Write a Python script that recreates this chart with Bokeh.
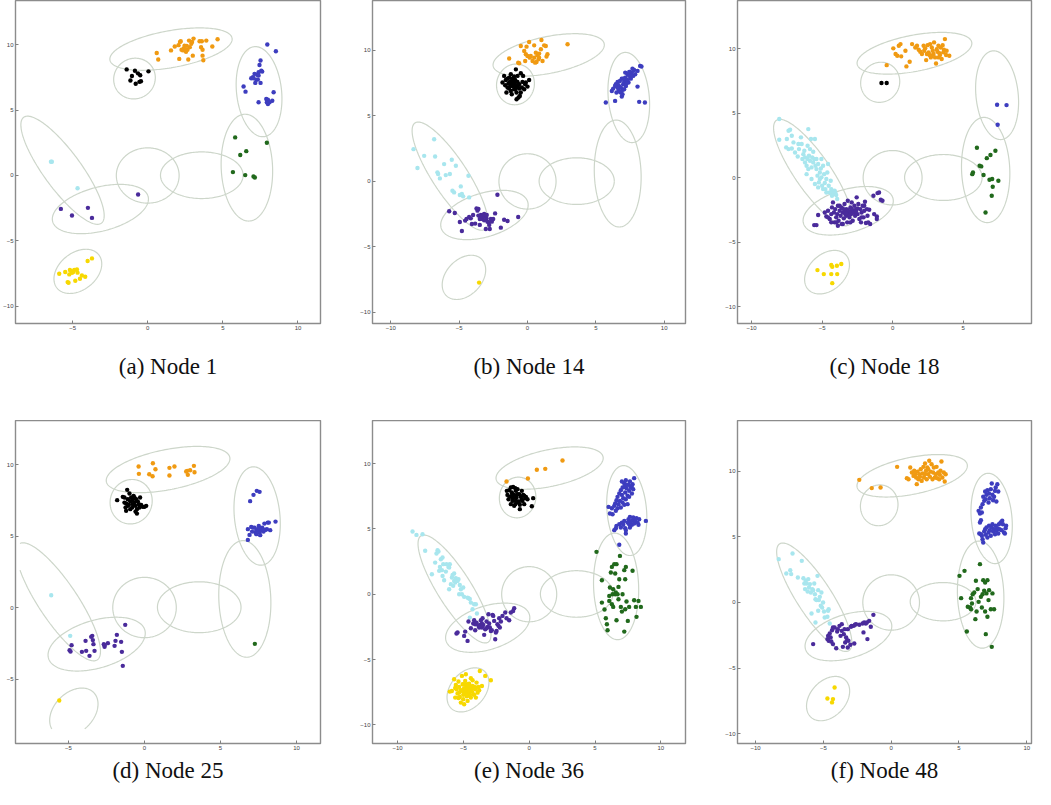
import numpy as np
from bokeh.plotting import figure
from bokeh.layouts import row, column
from bokeh.models import FixedTicker, Range1d
from bokeh.embed import file_html
from bokeh.resources import INLINE

# ---------------- mixture-component ellipses (centre, full axes, angle in degrees) -------------
ELL_NAMES = ["orange", "black", "blue", "green", "right", "centre", "purple", "cyan", "yellow"]
ELL_CX = [1.55, -0.88, 7.41, 6.60, 3.60, 0.00, -3.15, -5.67, -4.65]
ELL_CY = [9.65, 7.40, 6.40, 0.60, 0.02, 0.00, -2.56, 0.40, -7.32]
ELL_W = [8.30, 3.12, 6.90, 8.16, 5.50, 4.18, 6.64, 9.60, 3.80]
ELL_H = [2.80, 2.76, 3.00, 3.42, 3.56, 4.22, 3.32, 2.60, 2.66]
ELL_ANG = [12, 80, 95, 92, 0, 0, 18, -58, 50]
# panel (f) has a smaller "right" component
F_RIGHT_ELL = (3.83, 0.06, 4.85, 2.92, 0)
# panel (d) ellipse drawing is cut off at these lower limits
D_CLIP = (-8.2, -8.5)

CAPTIONS = ["(a) Node 1", "(b) Node 14", "(c) Node 18", "(d) Node 25", "(e) Node 36", "(f) Node 48"]
TICKS = [-10, -5, 0, 5, 10]
TICK_LABELS = {-10: "\u221210", -5: "\u22125", 0: "0", 5: "5", 10: "10"}

COLORS = {
    "orange": "#f09a12", "black": "#000000", "blue": "#3d3dbf", "purple": "#4a2b9b",
    "cyan": "#a8e6ee", "green": "#21691c", "yellow": "#f7d800",
}

# ---------------- panel (a) Node 1 ----------------
a_orange = [(0.6,9.35),(0.7,8.85),(1.55,9.55),(1.8,9.85),(2.05,9.95),(2.15,10.2),(2.2,10.25),(2.4,9.7),(2.45,9.9),(2.55,9.45),(2.65,9.6),(2.75,10.3),(2.8,9.8),(2.9,10.05),(2.95,10.2),(3.0,9.15),(3.05,10.45),(2.1,8.9),(2.7,8.85),(3.45,10.25),(3.55,9.8),(3.6,10.25),(3.65,9.6),(3.65,9.15),(3.7,8.8),(3.9,10.3),(4.3,9.85),(4.65,10.4),(2.35,9.55),(2.5,9.6),(2.6,9.9),(2.25,9.6)]
a_black = [(-1.4,8.1),(-1.05,7.6),(-1.15,7.25),(-0.85,8.0),(-0.65,7.8),(-0.5,7.65),(-0.55,7.15),(-0.8,7.0),(-0.45,7.2),(0.05,7.95)]
a_blue = [(7.96,10.0),(8.53,9.49),(7.51,8.78),(7.44,8.44),(7.56,8.01),(7.62,7.93),(7.38,7.88),(7.29,7.68),(7.11,7.76),(7.0,7.5),(6.89,7.42),(7.22,7.32),(7.16,7.07),(7.33,7.32),(7.51,7.07),(6.38,6.79),(6.51,6.4),(7.38,5.59),(7.89,5.84),(8.0,5.79),(8.29,5.71),(8.38,6.35),(8.0,5.46),(8.11,5.59),(7.93,5.59),(7.04,7.42),(7.38,7.63)]
a_green = [(5.82,2.91),(7.93,2.5),(6.16,1.56),(6.56,1.86),(5.67,0.26),(6.49,0.03),(7.04,-0.08),(7.13,-0.15)]
a_cyan = [(-6.44,1.05),(-6.38,1.05),(-4.67,-0.97)]
a_purple = [(-5.78,-2.55),(-5.04,-3.06),(-3.98,-2.47),(-3.71,-3.24),(-0.64,-1.45)]
a_yellow = [(-5.89,-7.5),(-5.49,-7.37),(-5.33,-8.14),(-5.27,-8.19),(-5.18,-7.22),(-5.09,-7.3),(-5.04,-7.42),(-4.96,-7.37),(-4.89,-7.22),(-4.82,-8.04),(-4.71,-7.17),(-4.67,-7.42),(-4.51,-7.88),(-4.38,-7.63),(-4.16,-7.73),(-4.0,-6.53),(-3.71,-6.33),(-5.22,-7.55)]

# ---------------- panel (b) Node 14 ----------------
b_orange = [(-1.34,9.37),(-0.68,9.06),(-0.61,9.01),(-0.49,10.33),(-0.24,9.95),(-0.12,9.7),(-0.07,10.28),(0.0,9.57),(0.12,10.63),(0.24,9.57),(0.37,9.19),(0.49,10.38),(0.49,9.44),(0.61,9.82),(0.66,9.11),(0.73,9.62),(0.8,9.31),(0.85,9.75),(0.98,10.08),(1.02,10.79),(1.1,9.19),(1.22,10.38),(1.34,10.33),(1.39,9.52),(1.46,9.7),(2.93,10.46),(-0.17,9.19),(0.17,9.44),(0.85,9.44),(0.56,9.06)]
b_black = [(-1.71,8.05),(-1.83,7.54),(-1.59,7.74),(-1.46,7.16),(-1.54,6.78),(-1.34,7.92),(-1.22,8.17),(-1.15,7.66),(-1.1,7.28),(-1.05,7.79),(-0.98,7.54),(-0.9,7.03),(-0.85,8.55),(-0.8,6.78),(-0.73,8.05),(-0.66,6.4),(-0.61,7.41),(-0.56,6.52),(-0.49,8.25),(-0.41,7.16),(-0.37,7.59),(-0.24,7.03),(-0.12,7.54),(0.0,7.23),(0.12,7.74),(-0.98,8.0),(-1.22,6.9),(-1.39,7.49),(-1.29,7.59),(-1.05,7.41),(-0.9,7.74),(-1.34,7.08),(-0.73,7.59),(-1.46,7.84),(-1.15,6.65),(-0.85,7.23),(-0.61,7.08),(-0.32,8.05),(-0.17,7.41),(-0.8,6.27),(-0.49,6.78),(-1.63,7.33),(-1.1,7.84),(-0.98,7.03),(-1.0,7.45),(-0.9,7.35),(-1.2,7.5),(-0.7,7.2),(-1.25,7.3),(-0.95,7.65)]
b_blue = [(5.73,6.02),(6.17,6.9),(6.27,7.08),(6.41,6.14),(6.46,7.41),(6.51,6.78),(6.59,7.59),(6.66,7.03),(6.71,7.23),(6.76,7.66),(6.83,6.78),(6.9,7.84),(6.9,6.47),(6.95,6.98),(7.0,7.41),(7.07,7.59),(7.15,7.92),(7.2,7.28),(7.24,7.74),(7.32,8.17),(7.39,7.54),(7.44,8.05),(7.49,8.35),(7.56,7.84),(7.63,8.3),(7.68,8.6),(7.73,8.05),(7.8,8.5),(7.88,8.17),(8.05,8.43),(8.05,7.23),(8.17,6.07),(8.24,8.81),(8.34,8.76),(8.59,6.02),(6.66,7.34),(6.83,7.16),(7.0,7.84),(7.15,8.3),(7.32,7.74),(6.59,7.16),(6.76,6.83),(7.07,7.03),(7.44,8.35),(6.95,6.65),(6.41,7.28),(7.24,7.49),(7.59,8.1)]
b_cyan = [(-8.34,2.46),(-8.05,1.02),(-7.56,1.95),(-6.83,3.22),(-6.76,1.9),(-6.59,0.69),(-6.54,0.56),(-6.41,0.23),(-6.1,1.32),(-5.98,0.48),(-5.68,0.56),(-5.54,1.65),(-5.49,-0.71),(-5.37,-0.84),(-5.24,1.19),(-4.95,-1.04),(-4.88,-0.38),(-4.8,-0.96),(-4.71,-1.14),(-4.32,0.43),(-4.27,-1.22)]
b_purple = [(-5.73,-2.28),(-5.32,-2.41),(-4.95,-3.1),(-4.8,-3.78),(-4.56,-2.99),(-4.46,-2.87),(-4.27,-2.72),(-4.15,-2.82),(-4.07,-3.25),(-3.98,-2.56),(-3.83,-3.22),(-3.73,-2.06),(-3.66,-2.23),(-3.59,-2.11),(-3.59,-2.61),(-3.49,-3.32),(-3.41,-2.56),(-3.34,-2.66),(-3.29,-2.87),(-3.24,-2.56),(-3.17,-2.97),(-3.1,-2.66),(-3.05,-3.63),(-3.0,-2.82),(-2.93,-3.07),(-2.85,-3.12),(-2.8,-3.32),(-2.76,-3.63),(-2.68,-2.87),(-2.61,-3.07),(-2.51,-2.87),(-2.37,-2.44),(-2.2,-1.02),(-1.95,-3.53),(-1.71,-2.92),(-1.46,-3.02),(-0.68,-2.72),(-3.49,-2.87),(-3.17,-2.49),(-2.98,-2.56)]
b_yellow = [(-3.54,-7.72)]

# ---------------- panel (c) Node 18 ----------------
c_orange = [(-0.42,8.73),(0.05,10.03),(0.21,9.59),(0.33,9.46),(0.44,10.23),(0.56,10.36),(0.61,9.41),(0.91,9.84),(0.98,8.63),(1.21,8.99),(1.38,10.36),(1.61,10.1),(1.73,10.23),(1.85,9.92),(1.96,9.77),(2.08,9.59),(2.2,10.23),(2.24,9.84),(2.31,10.03),(2.38,9.12),(2.48,10.28),(2.55,9.72),(2.62,9.51),(2.66,10.36),(2.71,9.33),(2.78,10.1),(2.85,9.84),(2.9,9.59),(2.94,10.49),(3.01,9.33),(3.08,8.86),(3.13,9.97),(3.18,9.77),(3.25,10.23),(3.32,9.66),(3.36,9.51),(3.41,10.1),(3.48,9.2),(3.55,10.28),(3.6,9.72),(3.64,9.92),(3.71,10.75),(3.79,9.51),(3.83,9.84),(4.02,9.46),(2.43,9.59),(2.78,9.46),(3.25,9.33)]
c_black = [(-0.79,7.34),(-0.42,7.34)]
c_blue = [(7.41,5.66),(8.08,5.63),(7.45,4.11)]
c_green = [(5.98,2.33),(5.65,0.28),(5.7,0.41),(6.17,0.93),(6.29,0.88),(6.45,0.21),(6.68,1.52),(6.94,1.76),(7.29,2.09),(6.87,-0.16),(7.06,-0.1),(7.5,-0.23),(7.1,-0.7),(7.03,-1.4),(6.59,-2.69)]
c_cyan = [(-8.04,4.55),(-8.04,2.95),(-7.5,3.0),(-7.38,3.64),(-7.27,3.72),(-7.55,2.35),(-7.38,2.22),(-7.15,2.27),(-7.03,2.74),(-6.92,1.96),(-6.73,1.65),(-6.64,2.22),(-6.5,3.13),(-6.45,2.61),(-6.4,1.45),(-6.33,1.83),(-6.26,2.09),(-6.21,1.19),(-6.1,0.93),(-6.03,2.48),(-5.98,3.77),(-5.93,1.71),(-5.86,1.32),(-5.79,3.0),(-5.75,0.8),(-5.7,1.58),(-5.63,2.02),(-5.56,1.45),(-5.51,3.0),(-5.47,0.93),(-5.4,0.67),(-5.33,0.16),(-5.28,1.06),(-5.23,-0.36),(-5.16,0.41),(-5.09,0.72),(-5.05,0.03),(-5.0,-0.62),(-4.93,0.93),(-4.86,0.28),(-4.81,-0.41),(-4.77,-0.88),(-4.7,-0.1),(-4.63,0.41),(-4.58,1.06),(-4.53,-0.62),(-4.46,-1.14),(-4.39,-0.23),(-4.35,-0.88),(-4.3,-1.4),(-4.23,-1.09),(-4.16,-1.27),(-4.11,-1.01),(-4.07,-1.14),(-4.0,-1.34),(-3.93,-1.65),(-6.1,0.28),(-5.98,0.67),(-5.75,-0.1),(-5.51,-0.49),(-5.28,-0.75),(-7.15,3.26),(-6.68,2.61),(-6.21,1.58),(-5.86,2.22),(-5.63,1.19),(-5.4,1.45),(-5.16,-0.1),(-4.93,-0.88),(-4.7,-1.14),(-5.05,1.45),(-6.03,1.45)]
c_purple = [(-5.56,-3.67),(-5.4,-3.67),(-5.28,-2.89),(-4.81,-2.69),(-4.7,-3.0),(-4.58,-2.56),(-4.46,-3.2),(-4.35,-2.82),(-4.3,-2.3),(-4.23,-1.91),(-4.16,-2.69),(-4.11,-3.46),(-4.07,-2.43),(-4.0,-3.07),(-3.93,-2.82),(-3.88,-2.17),(-3.83,-3.33),(-3.76,-2.56),(-3.69,-2.95),(-3.64,-2.3),(-3.6,-3.59),(-3.53,-2.69),(-3.46,-3.15),(-3.41,-2.04),(-3.36,-2.82),(-3.29,-2.43),(-3.22,-3.46),(-3.18,-1.78),(-3.13,-2.69),(-3.06,-3.07),(-2.99,-2.3),(-2.94,-2.82),(-2.9,-1.91),(-2.83,-3.33),(-2.76,-2.56),(-2.71,-2.17),(-2.66,-2.95),(-2.59,-2.43),(-2.55,-1.52),(-2.48,-2.82),(-2.43,-2.04),(-2.36,-3.2),(-2.29,-2.43),(-2.24,-3.46),(-2.2,-2.69),(-2.13,-2.17),(-2.06,-3.07),(-2.01,-2.56),(-1.96,-1.86),(-1.89,-3.51),(-1.82,-2.43),(-1.78,-2.95),(-1.73,-3.46),(-1.66,-2.48),(-1.59,-3.59),(-1.36,-1.4),(-1.31,-2.82),(-1.12,-3.0),(-1.07,-1.19),(-0.96,-1.14),(-0.84,-1.71),(-0.72,-1.78),(-1.12,-3.2),(-4.58,-3.07),(-4.35,-3.46),(-4.0,-3.46),(-3.76,-2.17),(-3.53,-2.38),(-3.29,-2.95),(-2.99,-3.46),(-2.71,-2.69),(-2.48,-2.38),(-2.2,-3.07),(-2.01,-2.17),(-3.53,-3.59),(-3.88,-3.72),(-3.0,-2.6),(-3.2,-2.5),(-2.8,-2.7),(-3.4,-2.6),(-2.6,-2.6),(-3.1,-2.9),(-2.9,-2.4),(-3.3,-2.75)]
c_yellow = [(-5.33,-7.16),(-4.88,-7.47),(-4.35,-6.77),(-4.28,-6.9),(-3.95,-6.82),(-3.64,-6.69),(-4.35,-7.47),(-3.93,-7.47),(-4.28,-8.17)]

# ---------------- panel (d) Node 25 ----------------
d_orange = [(-0.39,9.86),(-0.37,9.35),(0.31,9.32),(0.53,9.18),(0.55,10.09),(0.72,9.67),(1.64,9.77),(1.64,9.23),(1.97,9.86),(2.74,9.51),(2.81,9.56),(3.0,9.6),(2.85,9.28),(3.25,9.91),(3.29,9.46)]
d_black = [(-1.8,7.51),(-1.43,7.74),(-1.32,7.34),(-1.25,6.99),(-1.21,6.76),(-1.14,8.23),(-1.1,7.58),(-1.03,7.18),(-0.99,7.97),(-0.94,7.41),(-0.88,7.69),(-0.81,6.99),(-0.77,7.23),(-0.72,7.81),(-0.66,7.34),(-0.59,7.11),(-0.55,7.58),(-0.5,6.88),(-0.44,7.41),(-0.37,7.23),(-0.33,6.99),(-0.29,7.69),(-0.22,7.18),(-0.11,7.04),(0.0,7.04),(0.11,7.11),(-0.5,6.57),(-0.59,6.71),(-0.81,7.51),(-1.1,7.11),(-0.94,6.88),(-0.66,7.69),(-1.21,7.27),(-1.32,7.69)]
d_blue = [(7.39,8.16),(7.57,8.09),(7.17,7.88),(6.95,7.44),(6.8,5.48),(6.91,5.08),(7.02,5.64),(7.08,5.31),(7.13,5.59),(7.24,5.59),(7.3,5.24),(7.35,5.36),(7.46,5.48),(7.52,5.71),(7.57,5.24),(7.61,5.06),(7.68,5.41),(7.74,5.59),(7.83,5.31),(7.89,5.87),(7.96,5.43),(8.05,5.48),(8.11,5.94),(8.18,5.94),(8.27,5.41),(8.62,6.01),(6.8,4.73),(7.35,5.13),(7.79,5.48),(7.57,5.55)]
d_green = [(7.26,-2.54)]
d_cyan = [(-6.14,0.86),(-4.89,-1.98)]
d_purple = [(-4.93,-2.98),(-4.87,-3.08),(-4.8,-2.63),(-4.12,-3.1),(-3.88,-2.33),(-3.84,-3.03),(-3.62,-3.38),(-3.51,-2.05),(-3.44,-1.98),(-3.4,-2.28),(-3.36,-2.56),(-3.29,-3.03),(-2.68,-2.56),(-2.63,-2.75),(-2.41,-2.49),(-1.97,-2.68),(-1.91,-2.33),(-1.82,-1.91),(-1.54,-2.4),(-1.49,-3.1),(-1.43,-4.08),(-1.27,-1.21),(-2.63,-2.63)]
d_yellow = [(-5.61,-6.5)]

# ---------------- panel (e) Node 36 ----------------
e_orange = [(-1.72,8.62),(-0.1,8.85),(0.58,9.52),(1.22,9.59),(2.53,10.23)]
e_black = [(-1.7,7.91),(-1.65,7.6),(-1.57,7.27),(-1.52,7.96),(-1.47,7.45),(-1.39,8.16),(-1.32,7.78),(-1.27,7.14),(-1.22,8.21),(-1.14,7.6),(-1.06,6.89),(-1.01,7.91),(-0.96,7.4),(-0.89,8.04),(-0.81,7.09),(-0.76,7.65),(-0.71,6.84),(-0.63,7.45),(-0.56,7.91),(-0.51,7.14),(-0.46,7.6),(-0.38,6.89),(-0.3,7.35),(-0.25,7.45),(-0.13,7.27),(0.2,6.73),(-0.71,6.51),(-0.81,7.02),(-1.01,7.14),(-1.22,7.35),(-1.39,6.89),(-1.06,8.11),(-0.56,7.27),(-0.89,7.65),(-1.14,6.76),(-0.38,7.53),(-1.32,7.53),(0.3,7.35)]
e_blue = [(6.03,6.68),(6.13,6.17),(6.28,6.58),(6.33,6.12),(6.46,6.76),(6.53,6.94),(6.58,6.38),(6.63,7.19),(6.71,7.45),(6.78,6.89),(6.84,7.7),(6.89,7.14),(6.96,7.96),(7.04,7.6),(7.09,8.16),(7.14,7.35),(7.22,8.47),(7.29,7.78),(7.34,8.72),(7.39,8.11),(7.47,7.53),(7.54,8.37),(7.59,7.91),(7.65,8.62),(7.72,8.16),(7.8,7.7),(7.85,8.42),(7.9,8.04),(7.97,8.88),(6.96,6.63),(7.22,6.84),(7.47,6.89),(7.09,7.02),(7.34,7.27),(6.71,6.58),(7.04,8.62),(7.59,7.45),(7.8,8.29),(7.24,8.21),(7.39,8.37),
          (6.46,4.9),(6.63,5.23),(6.84,5.36),(6.96,5.1),(7.04,5.48),(7.14,5.31),(7.22,5.61),(7.29,5.05),(7.34,4.64),(7.47,5.48),(7.54,5.74),(7.59,5.36),(7.65,5.92),(7.72,5.56),(7.8,5.31),(7.85,5.66),(7.9,5.87),(7.97,5.41),(8.05,5.61),(8.15,5.82),(8.23,5.48),(8.3,5.31),(8.35,5.74),(8.86,5.61),(6.84,3.78),(7.34,4.9),(7.65,5.1),(6.58,5.05)]
e_green = [(5.11,3.24),(5.52,1.07),(5.52,-0.64),(5.72,-1.17),(5.82,-1.84),(5.9,-2.3),(5.95,-2.76),(6.08,-0.13),(6.13,0.51),(6.2,1.66),(6.28,2.09),(6.33,0.0),(6.38,-0.97),(6.46,2.3),(6.53,0.0),(6.58,0.13),(6.63,2.3),(6.63,-1.99),(6.71,0.0),(6.78,0.56),(6.84,1.15),(6.89,2.93),(6.96,-0.97),(7.09,0.0),(7.22,1.84),(7.29,1.15),(7.34,2.09),(7.39,-0.56),(7.49,-2.04),(7.22,-2.86),(7.59,-0.97),(7.85,1.79),(7.97,-0.46),(8.1,-0.97),(8.15,-1.73),(8.3,-0.51),(8.48,-0.97),(7.29,-1.15),(7.04,-1.33),(6.08,-0.51),(6.38,0.38),(6.78,-0.38),(6.53,1.58),(6.28,-0.77)]
e_cyan = [(-8.86,4.8),(-8.56,4.54),(-8.1,4.59),(-7.9,3.32),(-7.39,1.53),(-7.14,2.42),(-7.04,3.11),(-6.96,3.37),(-6.89,3.27),(-6.84,1.79),(-6.78,2.09),(-6.71,2.68),(-6.63,1.84),(-6.58,1.4),(-6.53,2.3),(-6.46,1.07),(-6.33,1.73),(-6.13,2.09),(-6.08,2.04),(-6.03,2.3),(-5.95,0.77),(-5.87,1.28),(-5.82,1.48),(-5.77,0.64),(-5.7,1.02),(-5.62,0.89),(-5.57,1.22),(-5.52,1.02),(-5.44,1.02),(-5.37,1.15),(-5.32,0.0),(-5.27,0.71),(-5.19,0.38),(-5.11,0.0),(-5.01,0.51),(-4.94,-0.2),(-4.68,-0.26),(-4.61,-0.31),(-4.51,-0.36),(-4.43,-0.64),(-4.3,-1.15),(-4.18,-0.77),(-4.05,-0.77),(-3.97,-1.48),(-4.51,-1.79),(-6.58,2.81),(-6.28,2.3),(-5.7,1.58),(-6.08,0.38)]
e_purple = [(-5.52,-3.01),(-5.44,-2.93),(-4.94,-3.19),(-4.86,-2.86),(-4.68,-3.57),(-4.61,-2.09),(-4.43,-2.6),(-4.25,-2.24),(-4.18,-1.99),(-4.1,-2.3),(-4.0,-2.17),(-3.85,-2.42),(-3.8,-2.55),(-3.75,-2.35),(-3.67,-1.99),(-3.59,-2.24),(-3.54,-1.84),(-3.49,-2.35),(-3.42,-3.11),(-3.34,-2.68),(-3.24,-2.09),(-3.16,-2.5),(-3.09,-1.53),(-3.04,-2.24),(-2.99,-2.55),(-2.91,-2.81),(-2.84,-2.76),(-2.78,-1.58),(-2.73,-1.66),(-2.66,-2.04),(-2.58,-3.44),(-2.53,-2.93),(-2.48,-2.81),(-2.41,-2.3),(-2.33,-2.42),(-2.28,-1.84),(-2.23,-2.55),(-2.15,-2.09),(-2.03,-1.66),(-1.82,-1.4),(-1.72,-1.84),(-1.52,-1.99),(-1.39,-1.4),(-1.22,-1.28),(-1.14,-1.07),(-3.24,-2.6),(-3.59,-2.55),(-4.1,-2.76)]
e_yellow = [(-6.03,-7.45),(-5.87,-7.4),(-5.7,-6.51),(-5.62,-7.91),(-5.57,-6.94),(-5.52,-7.27),(-5.44,-7.6),(-5.37,-6.68),(-5.32,-7.09),(-5.27,-7.86),(-5.19,-7.35),(-5.11,-6.25),(-5.06,-6.89),(-5.01,-7.7),(-4.94,-7.19),(-4.86,-6.63),(-4.81,-7.53),(-4.76,-7.02),(-4.68,-8.16),(-4.61,-7.35),(-4.56,-6.84),(-4.51,-7.78),(-4.43,-7.14),(-4.35,-7.45),(-4.3,-6.58),(-4.25,-7.65),(-4.18,-7.09),(-4.1,-7.27),(-4.05,-7.91),(-4.0,-6.76),(-3.92,-7.53),(-3.85,-7.09),(-3.8,-7.35),(-3.75,-5.87),(-3.59,-7.02),(-3.34,-6.25),(-2.91,-6.58),(-5.19,-8.29),(-4.94,-8.42),(-5.62,-7.17),(-4.81,-6.12),(-4.43,-6.43),(-5.01,-8.04),(-5.37,-7.94),(-4.18,-7.7),(-4.56,-7.4),(-4.76,-7.27),(-5.06,-7.4),(-4.3,-7.02),(-4.68,-6.89),(-5.32,-7.53),(-4.94,-6.89),(-4.43,-7.91),(-4.05,-7.14),(-4.7,-7.2),(-4.6,-7.5),(-4.8,-7.4),(-4.5,-7.1),(-4.9,-7.6),(-4.4,-7.3),(-4.65,-7.0),(-5.0,-7.3),(-4.55,-7.65),(-4.75,-7.8)]

# ---------------- panel (f) Node 48 ----------------
f_orange = [(-2.35,9.34),(-1.43,8.71),(-0.78,8.76),(0.44,10.33),(1.16,9.47),(1.28,9.39),(1.41,10.28),(1.53,9.9),(1.65,9.64),(1.7,10.03),(1.77,9.77),(1.84,9.52),(1.89,9.01),(1.94,9.97),(2.01,9.39),(2.08,9.77),(2.13,9.57),(2.18,10.15),(2.25,9.26),(2.33,9.82),(2.38,10.33),(2.42,9.52),(2.5,10.58),(2.57,10.03),(2.62,9.39),(2.67,10.28),(2.74,9.77),(2.81,10.79),(2.86,9.57),(2.91,9.97),(2.98,10.53),(3.05,9.39),(3.1,9.9),(3.15,10.28),(3.22,9.52),(3.3,9.77),(3.35,10.33),(3.39,9.47),(3.47,9.9),(3.54,9.39),(3.59,9.72),(3.64,10.03),(3.71,10.74),(3.78,9.52),(3.88,9.9),(3.95,9.21),(4.02,9.77),(2.5,9.77),(2.74,10.15)]
f_black = []
f_blue = [(6.45,6.98),(6.55,6.78),(6.62,7.23),(6.69,6.85),(6.74,7.49),(6.79,8.05),(6.86,7.74),(6.93,8.45),(6.98,7.87),(7.03,8.2),(7.1,8.55),(7.18,7.61),(7.22,8.3),(7.27,7.94),(7.35,8.63),(7.42,9.06),(7.47,8.2),(7.52,7.79),(7.59,8.05),(7.66,8.5),(7.71,8.76),(7.76,7.69),(7.83,9.01),(7.9,8.45),(6.62,6.27),(6.55,6.09),(6.5,5.25),(6.62,5.2),(6.69,5.08),(6.74,4.82),(6.79,4.57),(6.86,5.41),(6.93,5.58),(6.98,5.15),(7.03,5.71),(7.1,4.95),(7.18,5.33),(7.22,5.84),(7.27,5.51),(7.35,5.08),(7.42,5.71),(7.47,5.96),(7.52,5.41),(7.59,5.58),(7.66,5.2),(7.71,5.84),(7.76,5.46),(7.83,5.66),(7.9,5.25),(7.95,5.96),(8.0,5.58),(8.07,6.09),(8.15,5.51),(8.24,5.96),(8.32,5.33),(8.44,5.66),(8.48,5.84),(8.39,5.25),(8.19,6.22)]
f_green = [(5.04,2.03),(5.41,2.41),(5.58,-2.21),(5.82,-0.38),(5.89,0.33),(5.96,-0.08),(6.01,0.63),(6.13,0.76),(6.21,-1.27),(6.25,1.65),(6.3,-0.69),(6.38,1.02),(6.45,0.05),(6.55,2.92),(6.62,0.43),(6.69,-0.38),(6.79,1.7),(6.86,0.89),(6.93,-0.69),(6.98,-2.41),(7.03,0.69),(7.1,1.7),(7.1,-1.09),(7.18,0.18),(7.22,0.94),(7.35,-0.51),(7.42,-3.38),(7.47,0.69),(7.59,-0.51),(5.16,0.33),(5.65,-0.33),(5.89,-0.51),(6.93,1.52),(6.74,0.63)]
f_cyan = [(-8.29,3.3),(-7.73,2.21),(-7.44,2.46),(-7.37,2.16),(-7.27,3.73),(-6.88,1.9),(-6.59,3.17),(-6.47,1.85),(-6.4,1.45),(-6.35,1.02),(-6.3,1.65),(-6.23,1.45),(-6.16,0.84),(-6.11,1.78),(-6.06,1.14),(-5.99,1.4),(-5.92,0.76),(-5.87,-0.84),(-5.82,1.02),(-5.75,0.94),(-5.67,1.45),(-5.62,0.63),(-5.58,0.25),(-5.5,0.18),(-5.43,2.03),(-5.38,0.94),(-5.33,0.18),(-5.26,0.43),(-5.19,-0.25),(-5.14,0.76),(-5.09,-0.38),(-5.02,0.0),(-4.95,-0.69),(-4.9,-1.14),(-4.7,-1.09),(-4.65,-0.63),(-4.61,-0.51),(-4.53,-1.6),(-5.58,-1.52),(-5.38,-0.63)]
f_purple = [(-5.75,-3.17),(-4.7,-2.79),(-4.65,-2.54),(-4.61,-2.92),(-4.53,-2.36),(-4.46,-2.66),(-4.41,-2.97),(-4.36,-2.11),(-4.29,-3.17),(-4.17,-1.9),(-4.05,-3.48),(-3.98,-2.21),(-3.93,-2.03),(-3.81,-1.78),(-3.73,-2.54),(-3.64,-2.16),(-3.56,-3.38),(-3.49,-2.41),(-3.44,-2.03),(-3.39,-3.05),(-3.32,-2.66),(-3.25,-2.87),(-3.2,-2.03),(-3.15,-2.92),(-3.01,-3.22),(-2.91,-1.78),(-2.76,-1.78),(-2.67,-1.7),(-2.59,-1.65),(-2.35,-1.7),(-2.11,-1.6),(-2.04,-2.28),(-1.99,-1.52),(-1.87,-1.6),(-1.79,-1.52),(-1.75,-2.79),(-1.62,-1.4),(-1.5,-1.85),(-1.31,-0.94),(-2.96,-1.85),(-2.72,-3.12),(-3.2,-3.43),(-3.64,-1.65),(-4.29,-1.9)]
f_yellow = [(-4.17,-6.47),(-4.7,-7.31),(-4.29,-7.36),(-4.36,-7.61)]

# axis ranges per panel (data units)
X_RANGES = [(-8.8, 11.5), (-11.34, 11.56), (-11.0, 9.85), (-8.49, 11.58), (-11.9, 11.87), (-11.33, 10.35)]
Y_RANGES = [(-11.3, 13.36), (-10.84, 13.8), (-11.3, 13.74), (-9.51, 13.08), (-11.42, 13.29), (-10.74, 13.86)]

PANELS = [
    dict(orange=a_orange, black=a_black, blue=a_blue, green=a_green, cyan=a_cyan, purple=a_purple, yellow=a_yellow),
    dict(orange=b_orange, black=b_black, blue=b_blue, cyan=b_cyan, purple=b_purple, yellow=b_yellow),
    dict(orange=c_orange, black=c_black, blue=c_blue, green=c_green, cyan=c_cyan, purple=c_purple, yellow=c_yellow),
    dict(orange=d_orange, black=d_black, blue=d_blue, green=d_green, cyan=d_cyan, purple=d_purple, yellow=d_yellow),
    dict(orange=e_orange, black=e_black, blue=e_blue, green=e_green, cyan=e_cyan, purple=e_purple, yellow=e_yellow),
    dict(orange=f_orange, black=f_black, blue=f_blue, green=f_green, cyan=f_cyan, purple=f_purple, yellow=f_yellow),
]

# layout (pixels)
WIDTHS = [337, 355, 341]
BORDER_L = [15, 35, 45]
BORDER_R = [17, 7, 2]
ROW_H = [420, 369]
BORDER_B = [97, 46]
STANDOFF = [39, 7]

ELL_COLOR = "#cdd6ca"


def ellipse_xy(cx, cy, w, h, ang, clip=None, n=200):
    t = np.linspace(0, 2 * np.pi, n)
    th = np.radians(ang)
    x = cx + 0.5 * w * np.cos(t) * np.cos(th) - 0.5 * h * np.sin(t) * np.sin(th)
    y = cy + 0.5 * w * np.cos(t) * np.sin(th) + 0.5 * h * np.sin(t) * np.cos(th)
    if clip is not None:
        bad = (x < clip[0]) | (y < clip[1])
        x = np.where(bad, np.nan, x)
        y = np.where(bad, np.nan, y)
    return x, y


def make_panel(i):
    r, c = divmod(i, 3)
    p = figure(width=WIDTHS[c], height=ROW_H[r],
               x_range=Range1d(*X_RANGES[i]), y_range=Range1d(*Y_RANGES[i]),
               output_backend="svg", toolbar_location=None,
               title=CAPTIONS[i], title_location="below",
               min_border_left=BORDER_L[c], min_border_right=BORDER_R[c],
               min_border_top=0, min_border_bottom=BORDER_B[r])
    p.title.align = "center"
    p.title.text_font = "Liberation Serif"
    p.title.text_font_size = "23px"
    p.title.text_font_style = "normal"
    p.title.text_color = "#111111"
    p.title.standoff = STANDOFF[r]
    p.xgrid.grid_line_color = None
    p.ygrid.grid_line_color = None
    p.outline_line_color = "#8c8c8c"
    p.outline_line_width = 1.4
    p.background_fill_color = "white"
    p.border_fill_color = "white"
    for ax in (p.xaxis[0], p.yaxis[0]):
        ax.ticker = FixedTicker(ticks=TICKS)
        ax.major_label_overrides = TICK_LABELS
        ax.axis_line_color = None
        ax.major_tick_in = 3
        ax.major_tick_out = 0
        ax.major_tick_line_color = "#808080"
        ax.minor_tick_line_color = None
        ax.major_label_text_font_size = "6px"
        ax.major_label_text_color = "#444444"
        ax.major_label_standoff = 2

    # ellipses (drawn beneath the points)
    clip = D_CLIP if i == 3 else None
    for k in range(len(ELL_NAMES)):
        params = (ELL_CX[k], ELL_CY[k], ELL_W[k], ELL_H[k], ELL_ANG[k])
        if i == 5 and ELL_NAMES[k] == "right":
            params = F_RIGHT_ELL
        ex, ey = ellipse_xy(*params, clip=clip)
        p.line(ex, ey, line_color=ELL_COLOR, line_width=1.2)

    # points
    for name, pts in PANELS[i].items():
        if not pts:
            continue
        xs = [q[0] for q in pts]
        ys = [q[1] for q in pts]
        p.scatter(xs, ys, size=4.4, fill_color=COLORS[name], line_color=None)
    return p


panels = [make_panel(i) for i in range(6)]
layout = column(row(*panels[:3]), row(*panels[3:]))

open("out.html", "w").write(file_html(layout, INLINE))
